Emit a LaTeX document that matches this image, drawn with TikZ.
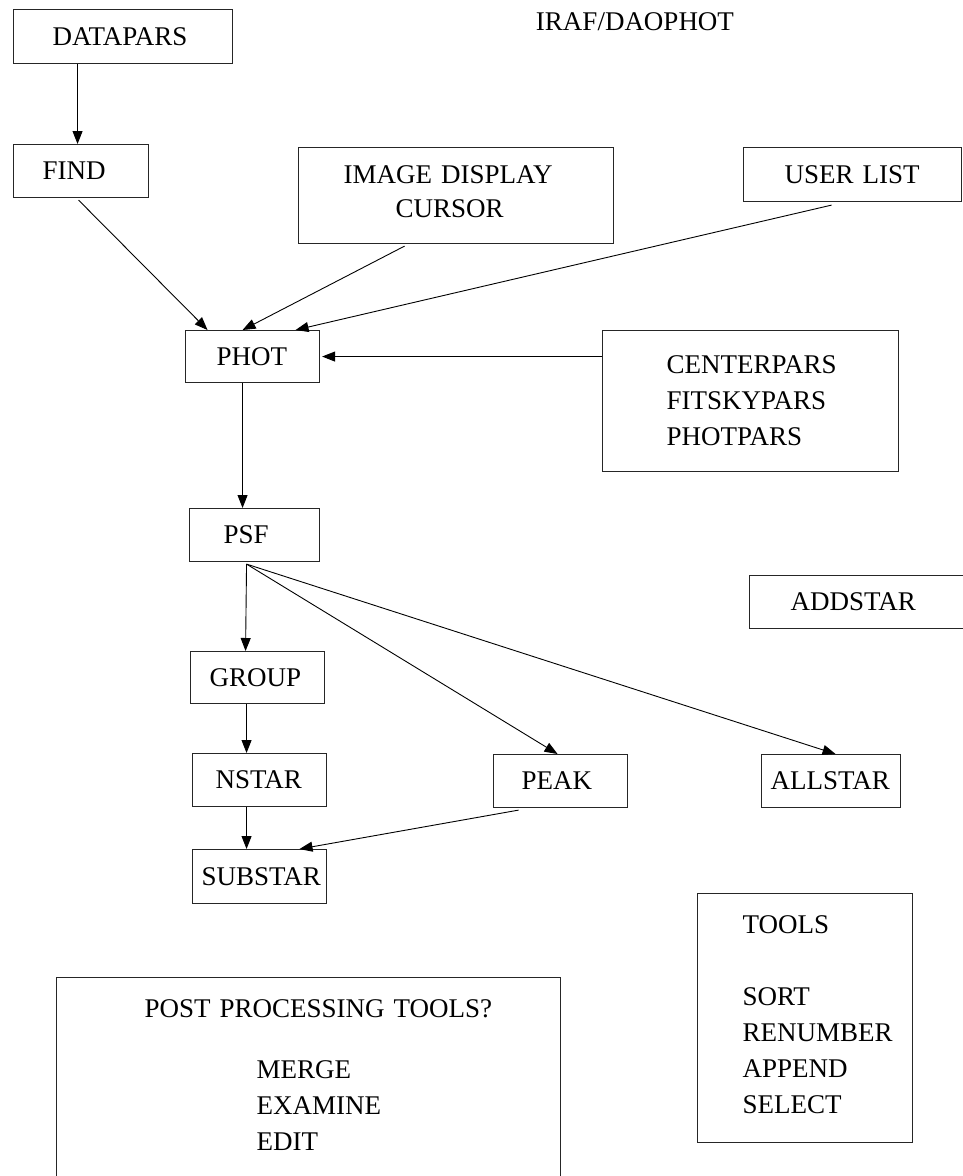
\documentclass[tikz,border=0pt]{standalone}
\usepackage{fontspec}
\setmainfont{Liberation Serif}
\usetikzlibrary{arrows.meta}
\setlength{\parindent}{0pt}
\begin{document}
\begin{tikzpicture}[x=1pt,y=-1pt,
  every node/.style={font=\fontsize{27}{36}\selectfont},
  bx/.style={draw=black!85, line width=1.1pt, rectangle, anchor=north west,
    inner xsep=0pt, inner ysep=0pt, align=left},
  arr/.style={-{Triangle[length=13pt,width=10pt]}, line width=0.9pt},
  ]
\useasboundingbox (0,0) rectangle (963,1176);

\node (title) at (635,22) {IRAF/DAOPHOT};

\node[bx, text width=219pt, minimum height=54pt] (datapars) at (13,9) {\hspace*{39pt}DATAPARS};
\node[bx, text width=135pt, minimum height=53pt] (find) at (13,144) {\hspace*{29pt}FIND};
\node[bx, text width=315pt, minimum height=96pt] (image) at (298,147)
  {\hspace*{45pt}IMAGE DISPLAY\\[-2pt]\hspace*{97pt}CURSOR\rule[-8pt]{0pt}{8pt}};
\node[bx, text width=218pt, minimum height=54pt] (userlist) at (743,147) {\hspace*{41pt}USER LIST};
\node[bx, text width=134pt, minimum height=52pt] (phot) at (185,330) {\hspace*{31pt}PHOT};
\node[bx, text width=296pt, minimum height=141pt] (centerpars) at (602,330)
  {\hspace*{64pt}CENTERPARS\\\hspace*{64pt}FITSKYPARS\\\hspace*{64pt}PHOTPARS};
\node[bx, text width=130pt, minimum height=53pt] (psf) at (189,508) {\hspace*{34pt}PSF};
\node[bx, text width=222pt, minimum height=53pt] (addstar) at (749,575) {\hspace*{41pt}ADDSTAR};
\node[bx, text width=134pt, minimum height=52pt] (group) at (190,651) {\hspace*{19pt}GROUP};
\node[bx, text width=134pt, minimum height=53pt] (nstar) at (192,753) {\hspace*{23pt}NSTAR};
\node[bx, text width=134pt, minimum height=53pt] (peak) at (493,754) {\hspace*{28pt}PEAK};
\node[bx, text width=139pt, minimum height=53pt] (allstar) at (761,754) {\hspace*{9pt}ALLSTAR};
\node[bx, text width=134pt, minimum height=54pt] (substar) at (192,849) {\hspace*{9pt}SUBSTAR};
\node[bx, text width=215pt, minimum height=249pt] (tools) at (697,893)
  {\hspace*{45pt}TOOLS\\[36pt]\hspace*{45pt}SORT\\\hspace*{45pt}RENUMBER\\\hspace*{45pt}APPEND\\\hspace*{45pt}SELECT\rule[-7pt]{0pt}{7pt}};
\node[bx, text width=504pt] (post) at (56,977)
  {\hspace*{88pt}\rule{0pt}{40pt}POST PROCESSING TOOLS?\\[25pt]\hspace*{200pt}MERGE\\\hspace*{200pt}EXAMINE\\\hspace*{200pt}EDIT\rule[-100pt]{0pt}{0pt}};

\coordinate (psfout) at ([xshift=-8pt,yshift=-2pt]psf.south);

\draw[arr] ([xshift=-45.5pt]datapars.south) -- ([xshift=-3.5pt]find.north);
\draw[arr] ([xshift=-2.5pt,yshift=-2pt]find.south) -- ([xshift=-45pt]phot.north);
\draw[arr] ([xshift=-51.5pt,yshift=-2pt]image.south) -- ([xshift=-10pt]phot.north);
\draw[arr] ([xshift=-21pt,yshift=-3pt]userlist.south) -- ([xshift=43pt]phot.north);
\draw[arr] (centerpars.west |- phot.east) -- ([xshift=2pt]phot.east);
\draw[arr] ([xshift=-10pt]phot.south) -- ([xshift=-12pt]psf.north);
\draw[arr] (psfout) -- ([xshift=-12pt]group.north);
\draw[arr] (psfout) -- ([xshift=-3pt]peak.north);
\draw[arr] (psfout) -- ([xshift=4.5pt]allstar.north);
\draw[arr] ([xshift=-11pt]group.south) -- ([xshift=-13pt]nstar.north);
\draw[arr] ([xshift=-13pt]nstar.south) -- ([xshift=-13pt]substar.north);
\draw[arr] ([xshift=-42pt,yshift=-2pt]peak.south) -- ([xshift=40pt]substar.north);
\end{tikzpicture}
\end{document}
